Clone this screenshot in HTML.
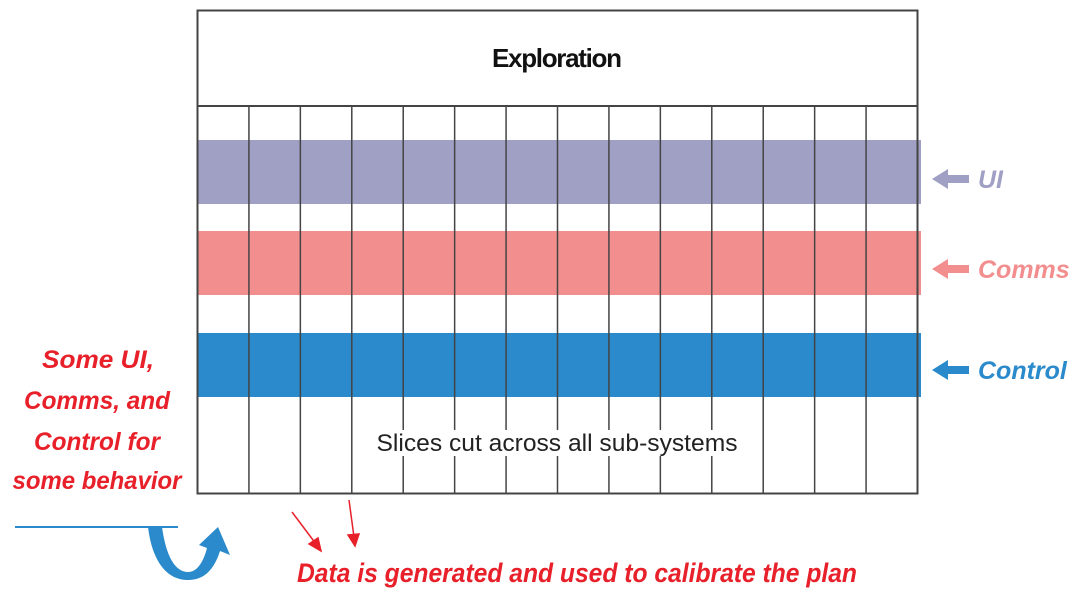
<!DOCTYPE html>
<html><head><meta charset="utf-8"><style>
body{margin:0;background:#fff}
svg{display:block}
text{font-family:"Liberation Sans",sans-serif}
</style></head><body>
<svg width="1072" height="599" viewBox="0 0 1072 599">
<rect x="0" y="0" width="1072" height="599" fill="#fff"/>
<g id="bands"></g>
<g id="grid"></g>
<rect x="197.5" y="10.5" width="720" height="483" fill="none" stroke="#444" stroke-width="2"/>
<line x1="197" y1="106" x2="918" y2="106" stroke="#444" stroke-width="2"/>
<text x="557" y="67" font-size="26" font-weight="bold" text-anchor="middle" textLength="130" fill="#111">Exploration</text>
<rect x="372" y="430" width="372" height="26" fill="#fff"/>
<text x="557" y="451" font-size="24" text-anchor="middle" textLength="361" lengthAdjust="spacingAndGlyphs" fill="#222">Slices cut across all sub-systems</text>
<g id="labels"></g>
<g font-size="25" font-weight="bold" font-style="italic" fill="#e8202a" text-anchor="middle">
<text x="98" y="368" textLength="112" lengthAdjust="spacingAndGlyphs">Some UI,</text>
<text x="97" y="409" textLength="146" lengthAdjust="spacingAndGlyphs">Comms, and</text>
<text x="97" y="450" textLength="126" lengthAdjust="spacingAndGlyphs">Control for</text>
<text x="97" y="489" textLength="169" lengthAdjust="spacingAndGlyphs">some behavior</text>
</g>
<line x1="15" y1="527" x2="178" y2="527" stroke="#2a8acb" stroke-width="2"/>
<path d="M148 527 L162 527 C166 556 175 572 188 572 C198 572 204 560 207 548 L199 545 L218 527 L230 555 L220 551 C214 570 204 580 188 580 C166 580 152 560 148 527 Z" fill="#2a8acb"/>
<g stroke="#e8202a" stroke-width="1.5" fill="#e8202a">
<line x1="292" y1="512" x2="316" y2="544"/><polygon points="321,551 309,544 318,538"/>
<line x1="349" y1="500" x2="354" y2="537"/><polygon points="355,546 348,535 359,534"/>
</g>
<text x="577" y="582" font-size="27" font-weight="bold" font-style="italic" fill="#e8202a" text-anchor="middle" textLength="560" lengthAdjust="spacingAndGlyphs">Data is generated and used to calibrate the plan</text>
</svg>
<script>
const bandNames=['UI','Comms','Control'];
const bandColors=['#a09fc4','#f38e8e','#2a8acb'];
const bandTops=[140,231,333];
const columnCount=14;
const ns='http://www.w3.org/2000/svg';
const bands=document.getElementById('bands'),grid=document.getElementById('grid'),labels=document.getElementById('labels');
const labelY=[188,278,379];
bandNames.forEach((n,i)=>{
  const r=document.createElementNS(ns,'rect');
  r.setAttribute('x',197);r.setAttribute('y',bandTops[i]);r.setAttribute('width',724);r.setAttribute('height',64);r.setAttribute('fill',bandColors[i]);
  
  
  bands.appendChild(r);
  const a=document.createElementNS(ns,'path');
  const y=labelY[i]-9;
  a.setAttribute('d',`M932 ${y} L948 ${y-10} L948 ${y-4} L969 ${y-4} L969 ${y+4} L948 ${y+4} L948 ${y+10} Z`);
  a.setAttribute('fill',bandColors[i]);
  
  
  labels.appendChild(a);
  const t=document.createElementNS(ns,'text');
  t.setAttribute('x',978);t.setAttribute('y',labelY[i]);t.setAttribute('font-size','25');t.setAttribute('font-weight','bold');t.setAttribute('font-style','italic');t.setAttribute('fill',bandColors[i]);
  t.textContent=n;
  
  
  labels.appendChild(t);
});
const w=720/columnCount;
for(let c=1;c<columnCount;c++){
  const l=document.createElementNS(ns,'line');
  const x=197.5+c*w;
  l.setAttribute('x1',x);l.setAttribute('x2',x);l.setAttribute('y1',106);l.setAttribute('y2',493);l.setAttribute('stroke','#444');l.setAttribute('stroke-width','1.5');
  
  
  grid.appendChild(l);
}
</script>
</body></html>
